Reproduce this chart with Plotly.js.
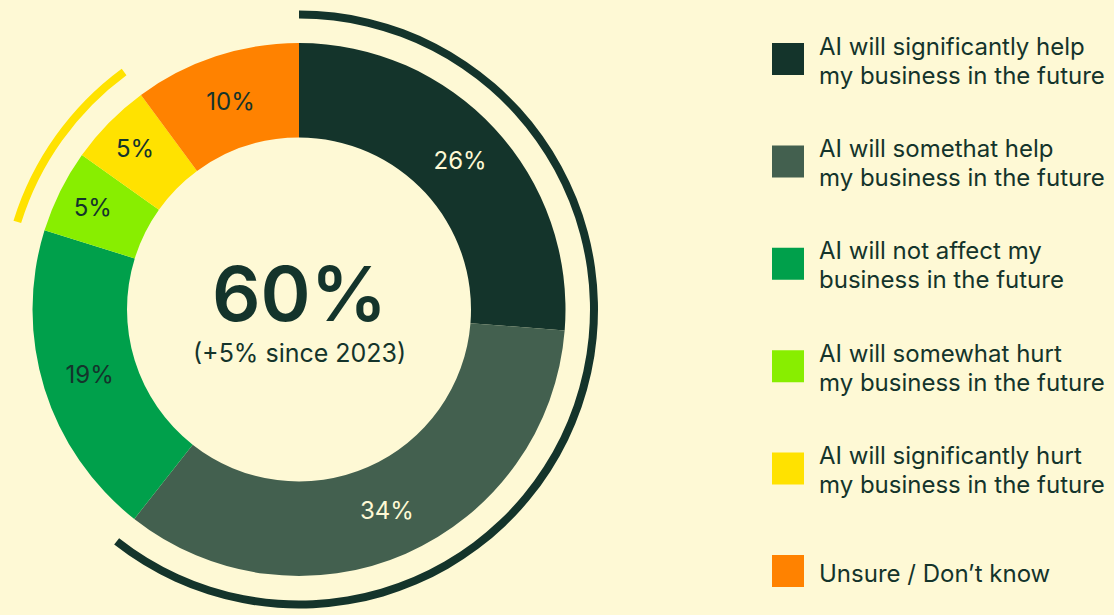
<!DOCTYPE html>
<html>
<head>
<meta charset="utf-8">
<script src="https://cdn.plot.ly/plotly-3.0.1.min.js"></script>
<style>html,body{margin:0;padding:0;background:#FEF9D5;}#chart{width:1114px;height:615px;}</style>
</head>
<body>
<div id="chart"></div>
<script>
// ---- data ----
const categories = [
  "AI will significantly help<br>my business in the future",
  "AI will somethat help<br>my business in the future",
  "AI will not affect my<br>business in the future",
  "AI will somewhat hurt<br>my business in the future",
  "AI will significantly hurt<br>my business in the future",
  "Unsure / Don’t know"
];
const values = [26, 34, 19, 5, 5, 10];
const colors = ["#14342B", "#43604F", "#00A04B", "#88EE00", "#FFE200", "#FF8200"];
const labelColors = ["#FEF9D5", "#FEF9D5", "#14342B", "#14342B", "#14342B", "#14342B"];
const headline = values[0] + values[1];
const changeNote = "(+5% since 2023)";

// ---- layout helpers ----
const W = 1114, H = 615;
const cx = 299, cyTop = 309.5, R = 266.5, ringR = 299, ringIn = 291, holeR = 172;
const cyB = H - cyTop;
const dom = (r) => ({x: [(cx - r) / W, (cx + r) / W], y: [(cyB - r) / H, (cyB + r) / H]});

const ringValues = [values[0] + values[1], values[2], values[3] + values[4], values[5]];
const ringColors = ["#14342B", "rgba(0,0,0,0)", "#FFE200", "rgba(0,0,0,0)"];

const traces = [
  {
    type: "pie", values: values, labels: categories, sort: false, direction: "clockwise", rotation: 0,
    hole: holeR / R, domain: dom(R),
    marker: {colors: colors, line: {width: 0}},
    texttemplate: "%{value}%", textposition: "inside", insidetextorientation: "horizontal",
    textfont: {family: "Inter, 'Noto Sans', sans-serif", size: 24, color: labelColors},
    hoverinfo: "label+value", showlegend: false
  },
  {
    type: "pie", values: ringValues, labels: ["r0", "r1", "r2", "r3"], sort: false, direction: "clockwise", rotation: 0,
    hole: ringIn / ringR, domain: dom(ringR),
    marker: {colors: ringColors, line: {width: 0}},
    textinfo: "none", hoverinfo: "skip", showlegend: false
  }
];

const annotations = [
  {text: headline + "%", x: cx / W, y: (H - 293) / H, xref: "paper", yref: "paper", showarrow: false,
   xanchor: "center", yanchor: "middle", font: {family: "Inter, sans-serif", size: 76, weight: 600, color: "#14342B"}},
  {text: changeNote, x: cx / W, y: (H - 353) / H, xref: "paper", yref: "paper", showarrow: false,
   xanchor: "center", yanchor: "middle", font: {family: "Inter, sans-serif", size: 25, color: "#14342B"}}
];
const shapes = [];
const legendTop = 59, legendStep = 102.4, sw = 32, swX = 772, txtX = 817;
categories.forEach((c, i) => {
  const yc = legendTop + i * legendStep;
  shapes.push({type: "rect", xref: "paper", yref: "paper", x0: swX / W, x1: (swX + sw) / W,
    y0: (H - yc - sw / 2) / H, y1: (H - yc + sw / 2) / H, fillcolor: colors[i], line: {width: 0}});
  const lines = c.split("<br>");
  const offs = lines.length === 1 ? [2] : [-13, 16];
  lines.forEach((ln, j) => {
    annotations.push({text: ln, x: txtX / W, y: (H - yc - offs[j]) / H, xref: "paper", yref: "paper", showarrow: false,
      xanchor: "left", yanchor: "middle", align: "left",
      font: {family: "Inter, sans-serif", size: 24, color: "#14342B"}});
  });
});

Plotly.newPlot("chart", traces, {
  width: W, height: H, margin: {l: 0, r: 0, t: 0, b: 0},
  paper_bgcolor: "#FEF9D5", plot_bgcolor: "#FEF9D5",
  showlegend: false, annotations: annotations, shapes: shapes
}, {displayModeBar: false, staticPlot: true});
</script>
</body>
</html>
